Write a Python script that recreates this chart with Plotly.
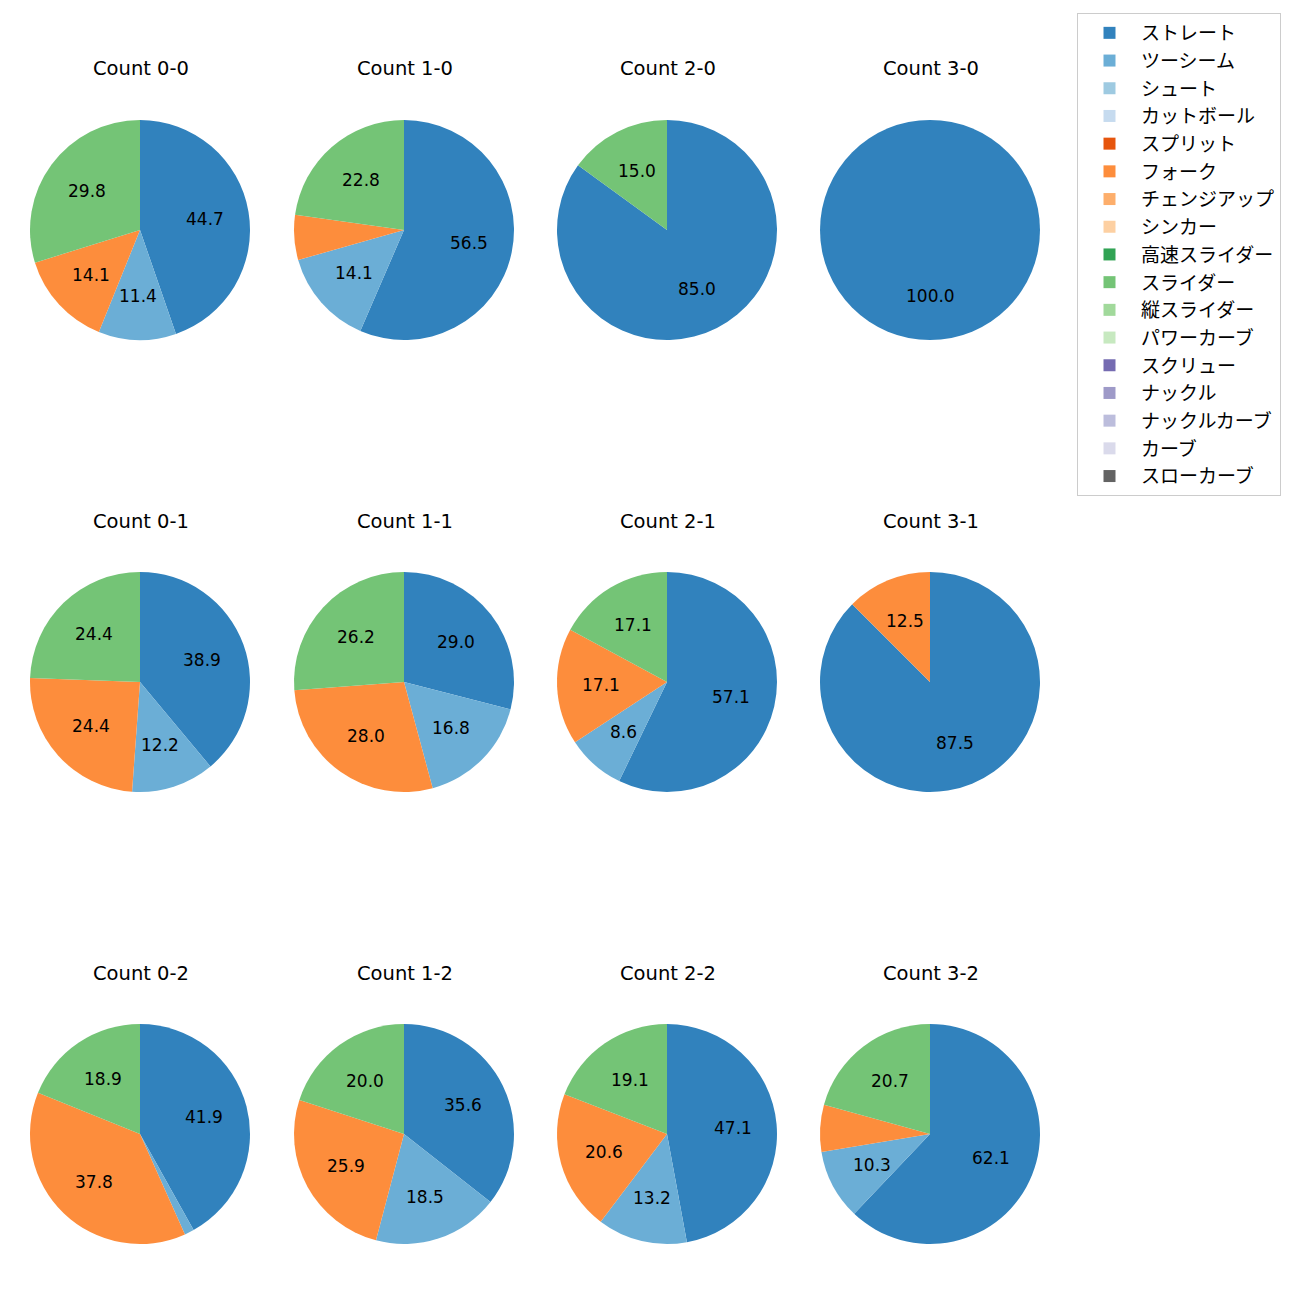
import math
import plotly.graph_objects as go

pitch_types = ["ストレート", "ツーシーム", "シュート", "カットボール", "スプリット", "フォーク",
               "チェンジアップ", "シンカー", "高速スライダー", "スライダー", "縦スライダー",
               "パワーカーブ", "スクリュー", "ナックル", "ナックルカーブ", "カーブ", "スローカーブ"]
colors = ["#3182bd", "#6baed6", "#9ecae1", "#c6dbef", "#e6550d", "#fd8d3c", "#fdae6b", "#fdd0a2",
          "#31a354", "#74c476", "#a1d99b", "#c7e9c0", "#756bb1", "#9e9ac8", "#bcbddc", "#dadaeb",
          "#636363"]

counts = ["0-0", "1-0", "2-0", "3-0",
          "0-1", "1-1", "2-1", "3-1",
          "0-2", "1-2", "2-2", "3-2"]

# shares (%) per count: ストレート, ツーシーム, フォーク, スライダー
straight = [44.7, 56.5, 85.0, 100.0, 38.9, 29.0, 57.1, 87.5, 41.9, 35.6, 47.1, 62.1]
twoseam  = [11.4, 14.1, 0.0, 0.0, 12.2, 16.8, 8.6, 0.0, 1.4, 18.5, 13.2, 10.3]
fork     = [14.1, 6.6, 0.0, 0.0, 24.4, 28.0, 17.1, 12.5, 37.8, 25.9, 20.6, 6.9]
slider   = [29.8, 22.8, 15.0, 0.0, 24.4, 26.2, 17.1, 0.0, 18.9, 20.0, 19.1, 20.7]

W = H = 1300
JP_FONT = "Noto Sans CJK JP"
LAT_FONT = "DejaVu Sans"
col_cx = [140, 404, 667, 930]
row_cy = [230, 682, 1134]
R = 110

fig = go.Figure()
annotations = []
for i, cnt in enumerate(counts):
    r, c = divmod(i, 4)
    cx, cy = col_cx[c], row_cy[r]
    vals = {"ストレート": straight[i], "ツーシーム": twoseam[i], "フォーク": fork[i], "スライダー": slider[i]}
    if i == 0:
        labels = pitch_types
    else:
        labels = [p for p in pitch_types if vals.get(p, 0) > 0]
    values = [vals.get(p, 0.0) for p in labels]
    cols = [colors[pitch_types.index(p)] for p in labels]
    fig.add_trace(go.Pie(
        labels=labels, values=values, sort=False, direction="clockwise", rotation=0,
        marker=dict(colors=cols, line=dict(width=0)),
        textinfo="none", hoverinfo="label+value",
        domain=dict(x=[(cx - R) / W, (cx + R) / W], y=[1 - (cy + R) / H, 1 - (cy - R) / H]),
        showlegend=True,
    ))
    # percentage labels at 0.6 radius (matplotlib style)
    total = sum(values)
    start = 90.0
    for lab, v in zip(labels, values):
        if v <= 0:
            continue
        span = 360.0 * v / total
        mid = math.radians(start - span / 2)
        start -= span
        if v < 7:
            continue
        px = cx + 0.6 * R * math.cos(mid)
        py = cy - 0.6 * R * math.sin(mid)
        annotations.append(dict(x=px / W, y=1 - py / H, xref="paper", yref="paper",
                                xanchor="center", yanchor="middle",
                                text=f"{v:.1f}", showarrow=False,
                                font=dict(size=17, color="black", family=LAT_FONT)))
    annotations.append(dict(x=(cx + 1) / W, y=1 - (cy - R - 51) / H, xref="paper", yref="paper",
                            xanchor="center", yanchor="middle",
                            text=f"Count {cnt}", showarrow=False,
                            font=dict(size=19.5, color="black", family=LAT_FONT)))

fig.update_layout(
    width=W, height=H, margin=dict(l=0, r=0, t=0, b=0),
    paper_bgcolor="white", plot_bgcolor="white",
    font=dict(family=JP_FONT, size=19, color="black"),
    annotations=annotations,
    legend=dict(x=1077 / W, y=1 - 13 / H, xanchor="left", yanchor="top",
                bordercolor="#cccccc", borderwidth=1, bgcolor="white", itemwidth=53,
                font=dict(size=19, family=JP_FONT), traceorder="normal", tracegroupgap=0),
)
fig.write_html("out.html")
